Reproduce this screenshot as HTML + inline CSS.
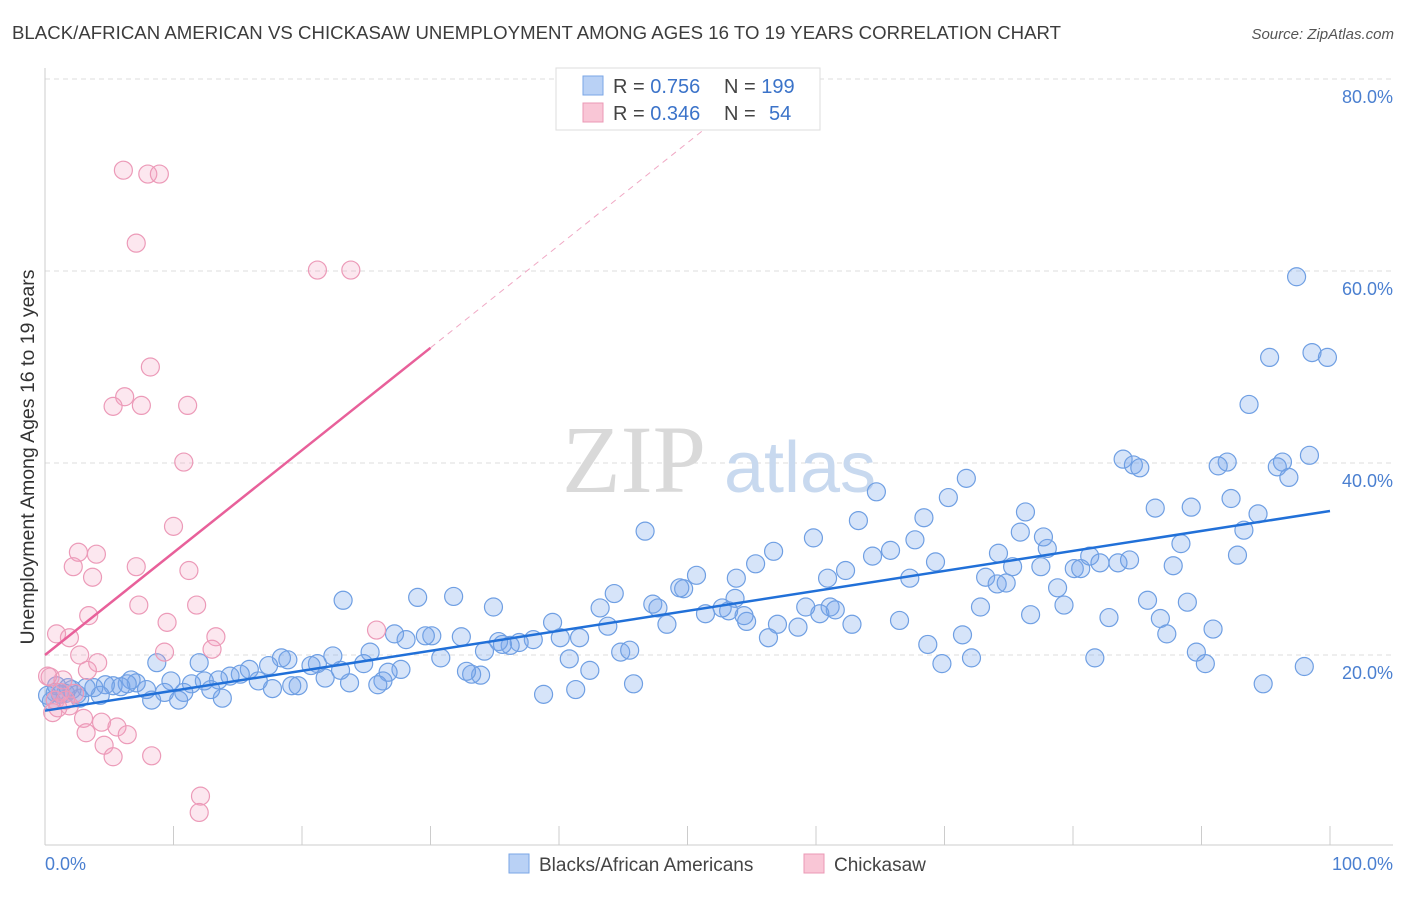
<!DOCTYPE html>
<html><head><meta charset="utf-8"><style>
body{margin:0;background:#fff;font-family:"Liberation Sans",sans-serif;}
</style></head><body>
<svg id="chart" width="1406" height="892" xmlns="http://www.w3.org/2000/svg" style="font-family:'Liberation Sans',sans-serif">
<text x="12" y="39" font-size="18.6" fill="#3c3c3c" textLength="1049">BLACK/AFRICAN AMERICAN VS CHICKASAW UNEMPLOYMENT AMONG AGES 16 TO 19 YEARS CORRELATION CHART</text>
<text x="1394" y="39" font-size="15" fill="#555" text-anchor="end" font-style="italic">Source: ZipAtlas.com</text>
<g id="grid"></g>
<g>
<text x="634" y="492" font-size="96" font-family="Liberation Serif,serif" fill="#d9d9d9" text-anchor="middle">ZIP</text>
<text x="800" y="492" font-size="72" fill="#c8d9ef" text-anchor="middle">atlas</text>
</g>
<line x1="45" y1="68" x2="45" y2="845" stroke="#ccc"/>
<line x1="45" y1="845" x2="1393" y2="845" stroke="#ccc"/>
<g id="xticks"></g>
<g id="yticks"></g>
<text transform="translate(34,457) rotate(-90)" font-size="19.5" fill="#333" text-anchor="middle">Unemployment Among Ages 16 to 19 years</text>
<text x="45" y="870" font-size="18" fill="#4a7fd0">0.0%</text>
<text x="1393" y="870" font-size="18" fill="#4a7fd0" text-anchor="end">100.0%</text>
<g id="pts"></g>
<g id="lines"></g>
<g>
<rect x="556" y="68" width="264" height="62" fill="#fff" stroke="#ddd"/>
<rect x="583" y="76" width="20" height="19" fill="#b9d1f5" stroke="#7aa6e6"/>
<rect x="583" y="103" width="20" height="19" fill="#f9c6d6" stroke="#eb98b5"/>
<text x="613" y="93" font-size="20" fill="#444">R = <tspan fill="#3b73c9">0.756</tspan><tspan x="724">N = </tspan><tspan fill="#3b73c9">199</tspan></text>
<text x="613" y="120" font-size="20" fill="#444">R = <tspan fill="#3b73c9">0.346</tspan><tspan x="724">N = </tspan><tspan x="769" fill="#3b73c9">54</tspan></text>
</g>
<g>
<rect x="509" y="854" width="20" height="19" fill="#b9d1f5" stroke="#7aa6e6"/>
<text x="539" y="871" font-size="19" fill="#444">Blacks/African Americans</text>
<rect x="804" y="854" width="20" height="19" fill="#f9c6d6" stroke="#eb98b5"/>
<text x="834" y="871" font-size="19" fill="#444">Chickasaw</text>
</g>
</svg>
<script>
const yTicks=[20,40,60,80];
const xTicks=[0,10,20,30,40,50,60,70,80,90,100];
const blueX=[97.4,98.6,99.8,95.3,93.7,98.4,96.3,95.9,96.8,92.0,91.3,83.9,84.7,85.2,71.7,64.7,70.3,92.3,94.4,93.3,89.2,86.4,88.4,92.8,87.8,85.8,88.9,86.8,87.3,90.9,89.6,90.3,94.8,98.0,81.7,82.8,79.3,78.8,80.1,80.6,81.3,82.1,83.5,84.4,78.0,77.7,75.9,76.3,74.2,73.2,74.1,74.8,75.3,77.5,76.7,72.8,71.4,69.8,72.1,68.7,69.3,68.4,67.3,67.7,66.5,65.8,64.4,63.3,62.3,60.9,59.8,61.1,61.5,62.8,60.3,59.2,56.7,55.3,53.8,53.7,57.0,58.6,56.3,54.6,54.4,53.2,52.7,51.4,50.7,49.7,49.4,48.4,47.3,47.7,46.7,44.3,43.2,43.8,44.8,45.5,45.8,42.4,41.6,40.8,41.3,40.1,39.5,38.8,38.0,36.9,36.2,35.3,35.6,34.9,34.2,33.9,33.2,32.8,32.4,31.8,30.8,30.1,29.0,29.6,28.1,27.7,27.2,26.7,26.3,25.9,25.3,24.8,23.7,23.2,23.0,22.4,21.8,21.2,20.7,19.7,18.9,19.2,18.4,17.4,17.7,16.6,15.9,15.2,14.4,13.8,13.5,12.9,12.4,12.0,11.4,10.8,10.4,9.8,9.3,8.7,8.3,7.9,7.1,6.7,6.4,5.9,5.3,4.7,4.3,3.8,3.2,2.7,2.1,1.6,1.2,0.8,0.5,0.2,0.9,1.8,2.5];
const blueY=[59.4,51.5,51.0,51.0,46.1,40.8,40.1,39.6,38.5,40.1,39.7,40.4,39.8,39.5,38.4,37.0,36.4,36.3,34.7,33.0,35.4,35.3,31.6,30.4,29.3,25.7,25.5,23.8,22.2,22.7,20.3,19.1,17.0,18.8,19.7,23.9,25.2,27.0,29.0,29.0,30.3,29.6,29.6,29.9,31.1,32.3,32.8,34.9,30.6,28.1,27.4,27.5,29.2,29.2,24.2,25.0,22.1,19.1,19.7,21.1,29.7,34.3,28.0,32.0,23.6,30.9,30.3,34.0,28.8,28.0,32.2,25.0,24.7,23.2,24.3,25.0,30.8,29.5,28.0,25.9,23.2,22.9,21.8,23.5,24.1,24.6,24.9,24.3,28.3,26.9,27.0,23.2,25.3,24.9,32.9,26.4,24.9,23.0,20.3,20.5,17.0,18.4,21.8,19.6,16.4,21.8,23.4,15.9,21.6,21.3,21.0,21.4,21.1,25.0,20.4,17.9,18.0,18.3,21.9,26.1,19.7,22.0,26.0,22.0,21.6,18.5,22.2,18.2,17.3,16.9,20.3,19.1,17.1,25.7,18.4,19.9,17.6,19.1,18.9,16.8,19.5,16.8,19.7,18.9,16.5,17.3,18.5,18.0,17.8,15.5,17.4,16.4,17.3,19.2,17.0,16.1,15.3,17.3,16.1,19.2,15.3,16.4,17.1,17.4,17.0,16.7,16.8,16.9,15.8,16.6,16.6,15.5,16.4,16.0,15.9,16.1,15.2,15.8,16.8,16.6,15.9];
const pinkX=[6.1,8.0,8.9,7.1,21.2,23.8,8.2,6.2,5.3,7.5,11.1,10.8,10.0,2.6,4.0,2.2,7.1,3.7,11.2,3.4,7.3,11.8,9.5,13.3,1.9,0.9,2.7,4.1,9.3,13.0,25.8,3.3,0.4,1.4,2.3,0.8,1.9,0.6,3.0,4.4,5.6,6.4,3.2,4.6,5.3,8.3,12.1,12.0,0.2,1.2,1.6,1.0];
const pinkY=[70.5,70.1,70.1,62.9,60.1,60.1,50.0,46.9,45.9,46.0,46.0,40.1,33.4,30.7,30.5,29.2,29.2,28.1,28.8,24.1,25.2,25.2,23.4,21.9,21.8,22.2,20.0,19.2,20.3,20.6,22.6,18.4,17.7,17.4,16.0,15.3,14.7,14.0,13.4,13.0,12.5,11.7,11.9,10.6,9.4,9.5,5.3,3.6,17.8,16.1,15.3,14.5];
const blueLine=[[0,14.2],[100,35.0]];
const pinkLine=[[0,20.0],[30,52.0]];
const pinkDash=[[30,52.0],[52,75.5]];
const NS='http://www.w3.org/2000/svg';
const sx=v=>45+v*12.85, sy=v=>847-v*9.6;
function mk(t,a,p){const e=document.createElementNS(NS,t);for(const k in a)e.setAttribute(k,a[k]);p.appendChild(e);return e;}
const grid=document.getElementById('grid'),yt=document.getElementById('yticks'),xt=document.getElementById('xticks');
yTicks.forEach(v=>{
 const l=mk('line',{x1:45,x2:1393,y1:sy(v),y2:sy(v),stroke:'#ddd','stroke-dasharray':'5,4'},grid);
 
 
 const t=mk('text',{x:1393,y:sy(v)+24,'font-size':18,fill:'#4a7fd0','text-anchor':'end'},yt);
 t.textContent=v.toFixed(1)+'%';
 
 
});
mk('line',{x1:45,x2:1393,y1:79,y2:79,stroke:'#ddd','stroke-dasharray':'5,4'},grid);
xTicks.forEach(v=>{
 const l=mk('line',{x1:sx(v),x2:sx(v),y1:826,y2:845,stroke:'#ccc'},xt);
 
 
});
const pts=document.getElementById('pts');
blueX.forEach((x,i)=>{
 const c=mk('circle',{cx:sx(x),cy:sy(blueY[i]),r:9,fill:'rgba(120,165,235,0.3)',stroke:'#6f9fe3','stroke-width':1.2},pts);
 
 
});
pinkX.forEach((x,i)=>{
 const c=mk('circle',{cx:sx(x),cy:sy(pinkY[i]),r:9,fill:'rgba(245,160,190,0.25)',stroke:'#ec9ab8','stroke-width':1.2},pts);
 
 
});
const lines=document.getElementById('lines');
const bl=mk('line',{x1:sx(blueLine[0][0]),y1:sy(blueLine[0][1]),x2:sx(blueLine[1][0]),y2:sy(blueLine[1][1]),stroke:'#2170d8','stroke-width':2.5},lines);


const pl=mk('line',{x1:sx(pinkLine[0][0]),y1:sy(pinkLine[0][1]),x2:sx(pinkLine[1][0]),y2:sy(pinkLine[1][1]),stroke:'#e8609a','stroke-width':2.5},lines);


const pd=mk('line',{x1:sx(pinkDash[0][0]),y1:sy(pinkDash[0][1]),x2:sx(pinkDash[1][0]),y2:sy(pinkDash[1][1]),stroke:'#f0a8c4','stroke-width':1,'stroke-dasharray':'6,5'},lines);


</script>
</body></html>
